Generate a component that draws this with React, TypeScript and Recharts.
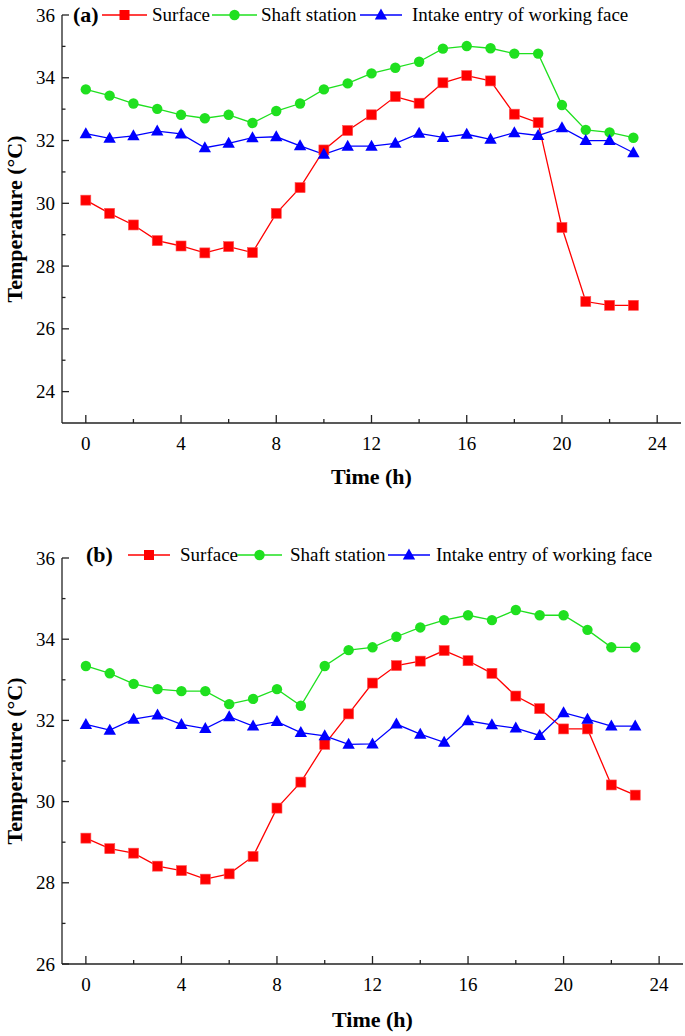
import React from "react";
import { LineChart, Line, XAxis, YAxis, Legend } from "recharts";

const hours = [0, 1, 2, 3, 4, 5, 6, 7, 8, 9, 10, 11, 12, 13, 14, 15, 16, 17, 18, 19, 20, 21, 22, 23];

// panel (a)
const surfaceA = [30.1, 29.68, 29.31, 28.81, 28.64, 28.42, 28.62, 28.43, 29.68, 30.5, 31.7, 32.32, 32.82, 33.4, 33.19, 33.84, 34.07, 33.9, 32.84, 32.57, 29.23, 26.87, 26.75, 26.75];
const shaftA = [33.63, 33.43, 33.18, 33.01, 32.82, 32.71, 32.82, 32.56, 32.94, 33.18, 33.63, 33.82, 34.14, 34.32, 34.51, 34.93, 35.01, 34.94, 34.77, 34.77, 33.13, 32.34, 32.26, 32.09];
const intakeA = [32.22, 32.07, 32.15, 32.3, 32.21, 31.77, 31.91, 32.09, 32.12, 31.83, 31.56, 31.82, 31.82, 31.91, 32.23, 32.1, 32.2, 32.04, 32.25, 32.16, 32.41, 32.0, 32.0, 31.61];

// panel (b)
const surfaceB = [29.1, 28.84, 28.73, 28.41, 28.3, 28.09, 28.22, 28.65, 29.84, 30.48, 31.41, 32.16, 32.92, 33.35, 33.46, 33.72, 33.47, 33.16, 32.6, 32.29, 31.79, 31.79, 30.41, 30.16];
const shaftB = [33.34, 33.16, 32.9, 32.77, 32.72, 32.72, 32.4, 32.53, 32.77, 32.36, 33.34, 33.73, 33.8, 34.06, 34.29, 34.47, 34.59, 34.47, 34.72, 34.59, 34.59, 34.23, 33.8, 33.8];
const intakeB = [31.9, 31.76, 32.03, 32.13, 31.9, 31.8, 32.09, 31.86, 31.97, 31.7, 31.62, 31.41, 31.42, 31.91, 31.66, 31.46, 31.99, 31.89, 31.81, 31.63, 32.19, 32.03, 31.86, 31.86];

const xTicks = [0, 2, 4, 6, 8, 10, 12, 14, 16, 18, 20, 22, 24];
const yTicksA = [24, 25, 26, 27, 28, 29, 30, 31, 32, 33, 34, 35, 36];
const yTicksB = [26, 27, 28, 29, 30, 31, 32, 33, 34, 35, 36];

const FONT = "Liberation Serif, Tinos, DejaVu Serif, serif";
const AXIS = "#222";
const RED = "#ff0000";
const GREEN = "#1fe01f";
const BLUE = "#0000ff";

const X_MARGIN = 20;
const Y_MARGIN = 7;

function XTick(props: any) {
  const { x, y, payload } = props;
  const v = payload.value;
  const major = v % 4 === 0;
  const ay = y - X_MARGIN;
  return (
    <g>
      <line x1={x} x2={x} y1={ay} y2={ay - (major ? 8 : 4)} stroke={AXIS} strokeWidth={1.3} />
      {major && (
        <text x={x} y={y} dy={6.5} textAnchor="middle" style={{ fontSize: 19, fontFamily: FONT }} fill="#000">
          {v}
        </text>
      )}
    </g>
  );
}

function YTick(props: any) {
  const { x, y, payload } = props;
  const v = payload.value;
  const major = v % 2 === 0;
  const ax = x + Y_MARGIN;
  return (
    <g>
      <line x1={ax} x2={ax + (major ? 7 : 3.5)} y1={y} y2={y} stroke={AXIS} strokeWidth={1.3} />
      {major && (
        <text x={x} y={y} dy={6.5} textAnchor="end" style={{ fontSize: 19, fontFamily: FONT }} fill="#000">
          {v}
        </text>
      )}
    </g>
  );
}

const Square = (p: any) => (
  <rect key={p.index} x={p.cx - 5} y={p.cy - 5} width={10} height={10} fill={RED} stroke="#ff5050" strokeWidth={0.6} />
);
const Circle = (p: any) => <circle key={p.index} cx={p.cx} cy={p.cy} r={5.2} fill={GREEN} />;
const Tri = (p: any) => (
  <polygon
    key={p.index}
    points={`${p.cx},${p.cy - 6.5} ${p.cx - 6.2},${p.cy + 4.5} ${p.cx + 6.2},${p.cy + 4.5}`}
    fill={BLUE}
  />
);

function LegendIcon({ w, color, kind }: { w: number; color: string; kind: string }) {
  const c = w / 2;
  return (
    <svg width={w} height={22} style={{ display: "block" }}>
      <line x1={0} x2={w} y1={11} y2={11} stroke={color} strokeWidth={1.3} />
      {kind === "sq" && <rect x={c - 5} y={6} width={10} height={10} fill={RED} />}
      {kind === "ci" && <circle cx={c} cy={11} r={5.2} fill={GREEN} />}
      {kind === "tr" && <polygon points={`${c},4.5 ${c - 6.2},15.5 ${c + 6.2},15.5`} fill={BLUE} />}
    </svg>
  );
}

function LegendRow({ tag, pos }: { tag: string; pos: number[] }) {
  const abs = (left: number): React.CSSProperties => ({ position: "absolute", left, top: 0, height: 22, lineHeight: "22px", whiteSpace: "nowrap" });
  const txt = { fontSize: 19, fontFamily: FONT, color: "#000" };
  return (
    <div style={{ position: "relative", width: 685, height: 22 }}>
      <div style={{ ...abs(pos[0]), ...txt, fontSize: 22, fontWeight: "bold" }}>{tag}</div>
      <div style={abs(pos[1])}><LegendIcon w={pos[2] - pos[1]} color={RED} kind="sq" /></div>
      <div style={{ ...abs(pos[3]), ...txt }}>Surface</div>
      <div style={abs(pos[4])}><LegendIcon w={pos[5] - pos[4]} color={GREEN} kind="ci" /></div>
      <div style={{ ...abs(pos[6]), ...txt }}>Shaft station</div>
      <div style={abs(pos[7])}><LegendIcon w={pos[8] - pos[7]} color={BLUE} kind="tr" /></div>
      <div style={{ ...abs(pos[9]), ...txt }}>Intake entry of working face</div>
    </div>
  );
}

type PanelProps = {
  tag: string;
  surface: number[];
  shaft: number[];
  intake: number[];
  yDomain: [number, number];
  yTicks: number[];
  height: number;
  margin: { top: number; right: number; bottom: number; left: number };
  xAxisHeight: number;
  titleOffset: number;
  legendTop: number;
  legendPos: number[];
};

function Panel(p: PanelProps) {
  const rows = hours.map((t, i) => ({ t, surface: p.surface[i], shaft: p.shaft[i], intake: p.intake[i] }));
  return (
    <LineChart width={685} height={p.height} data={rows} margin={p.margin}>
      <XAxis
        dataKey="t"
        type="number"
        domain={[-1, 25]}
        ticks={xTicks}
        interval={0}
        height={p.xAxisHeight}
        tickSize={0}
        tickMargin={X_MARGIN}
        tickLine={false}
        tick={<XTick />}
        axisLine={{ stroke: AXIS, strokeWidth: 1.3 }}
        label={{
          value: "Time (h)",
          position: "insideBottom",
          offset: p.titleOffset,
          style: { fontSize: 22, fontWeight: "bold", fontFamily: FONT },
          fill: "#000",
        }}
      />
      <YAxis
        type="number"
        domain={p.yDomain}
        ticks={p.yTicks}
        interval={0}
        width={62}
        tickSize={0}
        tickMargin={Y_MARGIN}
        tickLine={false}
        tick={<YTick />}
        axisLine={{ stroke: AXIS, strokeWidth: 1.3 }}
        label={{
          value: "Temperature (°C)",
          angle: -90,
          position: "insideLeft",
          offset: 14,
          textAnchor: "middle",
          style: { textAnchor: "middle", fontSize: 22, fontWeight: "bold", fontFamily: FONT },
          fill: "#000",
        }}
      />
      <Legend
        layout="horizontal"
        verticalAlign="middle"
        align="center"
        wrapperStyle={{ top: p.legendTop, left: 0, width: 685, height: 22 }}
        content={() => <LegendRow tag={p.tag} pos={p.legendPos} />}
      />
      <Line dataKey="surface" stroke={RED} strokeWidth={1.3} dot={Square} activeDot={false} isAnimationActive={false} />
      <Line dataKey="shaft" stroke={GREEN} strokeWidth={1.3} dot={Circle} activeDot={false} isAnimationActive={false} />
      <Line dataKey="intake" stroke={BLUE} strokeWidth={1.3} dot={Tri} activeDot={false} isAnimationActive={false} />
    </LineChart>
  );
}

export default function App() {
  return (
    <div style={{ position: "absolute", left: 0, top: 0, width: 685, height: 1036, background: "#fff", fontFamily: FONT }}>
      <Panel
        tag="(a)"
        surface={surfaceA}
        shaft={shaftA}
        intake={intakeA}
        yDomain={[23, 36]}
        yTicks={yTicksA}
        height={500}
        margin={{ top: 15, right: 4, bottom: 0, left: 0 }}
        xAxisHeight={77}
        titleOffset={16}
        legendTop={4}
        legendPos={[73, 102, 147, 152, 212, 257, 261, 360, 402, 412]}
      />
      <Panel
        tag="(b)"
        surface={surfaceB}
        shaft={shaftB}
        intake={intakeB}
        yDomain={[26, 36]}
        yTicks={yTicksB}
        height={536}
        margin={{ top: 58, right: 2, bottom: 0, left: 0 }}
        xAxisHeight={72}
        titleOffset={9}
        legendTop={44}
        legendPos={[86, 128, 170, 180, 237, 282, 290, 388, 430, 436]}
      />
    </div>
  );
}
